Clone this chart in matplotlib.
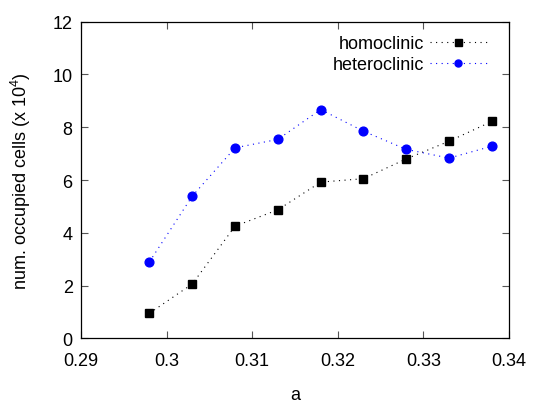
import numpy as np
import matplotlib
matplotlib.use("Agg")
import matplotlib.pyplot as plt

plt.rcParams['font.family'] = ['Liberation Sans', 'DejaVu Sans']
plt.rcParams['mathtext.default'] = 'regular'

# data
a = [0.298, 0.303, 0.308, 0.313, 0.318, 0.323, 0.328, 0.333, 0.338]
homoclinic = [0.95, 2.06, 4.25, 4.87, 5.92, 6.05, 6.80, 7.47, 8.22]
heteroclinic = [2.90, 5.39, 7.22, 7.54, 8.67, 7.85, 7.16, 6.83, 7.28]

xticks = [0.29, 0.3, 0.31, 0.32, 0.33, 0.34]
xticklabels = ['0.29', '0.3', '0.31', '0.32', '0.33', '0.34']
yticks = [0, 2, 4, 6, 8, 10, 12]

fig = plt.figure(figsize=(5.4, 4.06), dpi=100)
ax = fig.add_axes([81/540, 1-339.3/406, (509-81)/540, (339.3-22.7)/406])

ax.plot(a, homoclinic, color='black', linestyle=(0, (1, 4)), linewidth=0.8,
        marker='s', markersize=6.3, label='homoclinic')
ax.plot(a, heteroclinic, color='#0000ff', linestyle=(0, (1, 4)), linewidth=0.8,
        marker='o', markersize=6.3, label='heteroclinic')

ax.set_xlim(0.29, 0.34)
ax.set_ylim(0, 12)
ax.set_xticks(xticks)
ax.set_xticklabels(xticklabels)
ax.set_yticks(yticks)
ax.tick_params(direction='in', top=True, right=True, length=5, width=0.8,
               labelsize=13, pad=6, color='#555555')
ax.tick_params(axis='x', pad=10)
for s in ax.spines.values():
    s.set_linewidth(0.9)

ax.set_xlabel('a', fontsize=13, labelpad=12)
ax.set_ylabel('num. occupied cells (x 10$^{4}$)', fontsize=13, labelpad=14)

ax.legend(loc='upper right', bbox_to_anchor=(1.0, 1.025), frameon=False,
          markerfirst=False, fontsize=13, handlelength=3.2, handletextpad=0.3,
          labelspacing=0.2, borderaxespad=0.8, markerscale=0.8)

fig.savefig('out.png', dpi=100)
